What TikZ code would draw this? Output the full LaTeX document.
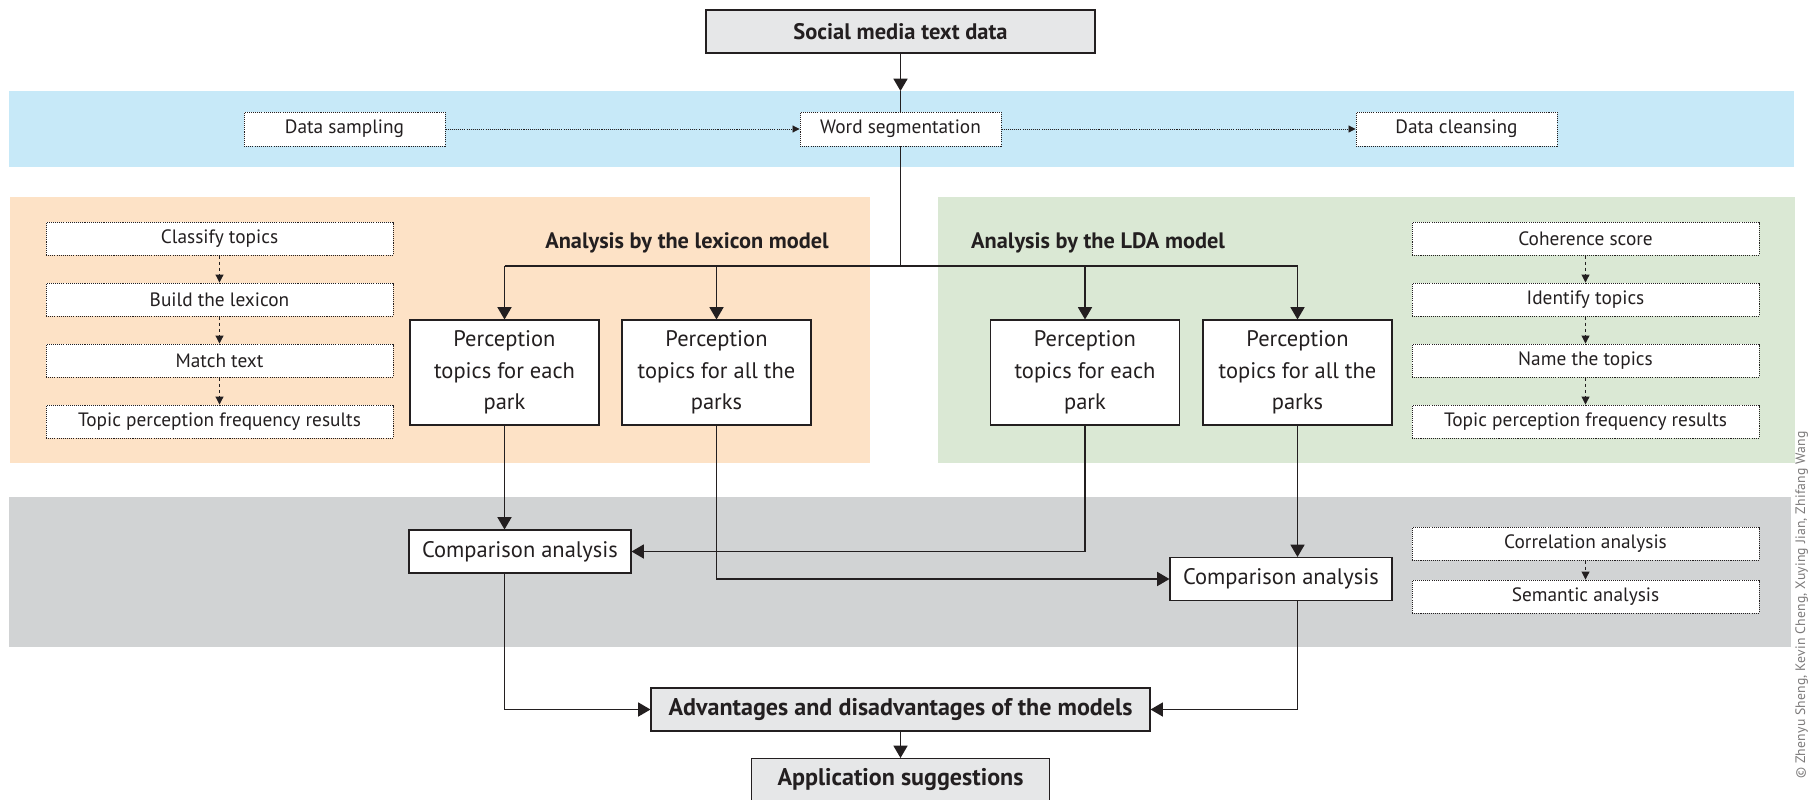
\documentclass[tikz,border=0pt]{standalone}
\usepackage{fontspec}
\setmainfont{PT Sans}
\usetikzlibrary{positioning,arrows.meta,backgrounds}

\definecolor{bandblue}{HTML}{C7E9F8}
\definecolor{bandorange}{HTML}{FDE2C6}
\definecolor{bandgreen}{HTML}{DAE8D4}
\definecolor{bandgray}{HTML}{D1D3D4}
\definecolor{boxgray}{HTML}{E6E7E8}
\definecolor{linegray}{HTML}{231F20}

\begin{document}
\begin{tikzpicture}[x=0.2mm, y=-0.2mm, node distance=12.2mm]
    \tikzset{
        mainbox/.style = {rectangle, line width=0.6pt, draw=linegray, fill=boxgray, minimum height=8.6mm, text=linegray, font=\fontsize{13.7}{15}\selectfont\bfseries},
        topbox/.style = {rectangle, line width=0.5pt, draw=linegray, dash pattern=on 0.6pt off 0.6pt, fill=white, minimum width=40.2mm, minimum height=6.8mm, text=linegray, font=\fontsize{11}{12}\selectfont},
        stepbox/.style = {topbox, minimum width=69.4mm, minimum height=6.6mm},
        parkbox/.style = {rectangle, line width=0.6pt, draw=linegray, fill=white, minimum width=37.8mm, minimum height=21mm, align=center, text=linegray, font=\fontsize{12.8}{18}\selectfont},
        compbox/.style = {rectangle, line width=0.6pt, draw=linegray, fill=white, minimum width=44.4mm, minimum height=8.6mm, text=linegray, font=\fontsize{12.8}{14}\selectfont},
        modellabel/.style = {text=linegray, font=\fontsize{12.7}{14}\selectfont\bfseries},
        arrow/.style = {line width=0.75pt, draw=linegray, -{Triangle[width=8pt,length=7pt]}},
        line/.style = {line width=0.75pt, draw=linegray},
        dotarrow/.style = {line width=0.5pt, draw=linegray, dash pattern=on 0.6pt off 0.6pt, -{Triangle[width=4pt,length=4pt]}},
        dasharrow/.style = {line width=0.5pt, draw=linegray, dash pattern=on 2pt off 1.5pt, -{Triangle[width=4.5pt,length=4.5pt]}},
    }
    \useasboundingbox (0,0) rectangle (1808,799);

    % bands
    \fill [bandblue] (9,91) rectangle (1794,167);
    \fill [bandorange] (10,197) rectangle (870,463);
    \fill [bandgreen] (938,197) rectangle (1795,463);
    \fill [bandgray] (9,497) rectangle (1791,647);

    \node (social) [mainbox, minimum width=77.8mm, font=\fontsize{12.8}{14}\selectfont\bfseries] at (900.5,31.5) {Social media text data};
    \node (sampling) [topbox] at (344.5,129) {Data sampling};
    \node (wordseg) [topbox] at (900.5,129) {Word segmentation};
    \node (cleansing) [topbox] at (1456.5,129) {Data cleansing};

    % lexicon model
    \node (classify) [stepbox] at (219.5,238.5) {Classify topics};
    \node (build) [stepbox, below of=classify] {Build the lexicon};
    \node (match) [stepbox, below of=build] {Match text};
    \node (lexfreq) [stepbox, below of=match] {Topic perception frequency results};
    \node (lexlabel) [modellabel, anchor=east] at (835,243) {Analysis by the lexicon model};
    \node (each1) [parkbox] at (504.5,372.5) {Perception\\topics for each\\park};
    \node (all1) [parkbox] at (716.5,372.5) {Perception\\topics for all the\\parks};

    % LDA model
    \node (coherence) [stepbox] at (1585.5,238.5) {Coherence score};
    \node (identify) [stepbox, below of=coherence] {Identify topics};
    \node (name) [stepbox, below of=identify] {Name the topics};
    \node (ldafreq) [stepbox, below of=name] {Topic perception frequency results};
    \node (ldalabel) [modellabel, anchor=west] at (965,243) {Analysis by the LDA model};
    \node (each2) [parkbox] at (1085,372.5) {Perception\\topics for each\\park};
    \node (all2) [parkbox] at (1297.5,372.5) {Perception\\topics for all the\\parks};

    % comparison
    \node (comp1) [compbox] at (520,551.5) {Comparison analysis};
    \node (comp2) [compbox] at (1281,579) {Comparison analysis};
    \node (correl) [stepbox] at (1585.5,543.5) {Correlation analysis};
    \node (semantic) [stepbox, below of=correl, yshift=1.6mm] {Semantic analysis};

    \node (adv) [mainbox, minimum width=99.8mm] at (900.5,709.5) {Advantages and disadvantages of the models};
    \node (app) [mainbox, minimum width=59.6mm, minimum height=8.4mm] at (900.5,779.5) {Application suggestions};

    \node (credit) [rotate=90, anchor=north west, inner sep=0pt, text=linegray!60, font=\fontsize{7.8}{9}\selectfont] at (1795,779) {\addfontfeatures{LetterSpace=1.5}© Zhenyu Sheng, Kevin Cheng, Xuying Jian, Zhifang Wang};

    \coordinate (bandtop) at (900.5,91);
    \coordinate (split) at (900.5,266);
    \draw [arrow] (social) -- (bandtop);
    \draw [line] (bandtop) -- (wordseg);
    \draw [dotarrow] (sampling) -- (wordseg);
    \draw [dotarrow] (wordseg) -- (cleansing);
    \draw [line] (wordseg) -- (split);
    \draw [line] (each1 |- split) -- (all2 |- split);
    \draw [arrow] (each1 |- split) -- (each1);
    \draw [arrow] (all1 |- split) -- (all1);
    \draw [arrow] (each2 |- split) -- (each2);
    \draw [arrow] (all2 |- split) -- (all2);

    \draw [dasharrow] (classify) -- (build);
    \draw [dasharrow] (build) -- (match);
    \draw [dasharrow] (match) -- (lexfreq);
    \draw [dasharrow] (coherence) -- (identify);
    \draw [dasharrow] (identify) -- (name);
    \draw [dasharrow] (name) -- (ldafreq);
    \draw [dasharrow] (correl) -- (semantic);

    \draw [arrow] (each1.south) -- (each1.south |- comp1.north);
    \draw [arrow] (each2.south) |- (comp1.east);
    \draw [arrow] (all1.south) |- (comp2.west);
    \draw [arrow] (all2.south) -- (all2.south |- comp2.north);
    \draw [arrow] (each1.south |- comp1.south) |- (adv.west);
    \draw [arrow] (all2.south |- comp2.south) |- (adv.east);
    \draw [arrow] (adv) -- (app);
\end{tikzpicture}
\end{document}
